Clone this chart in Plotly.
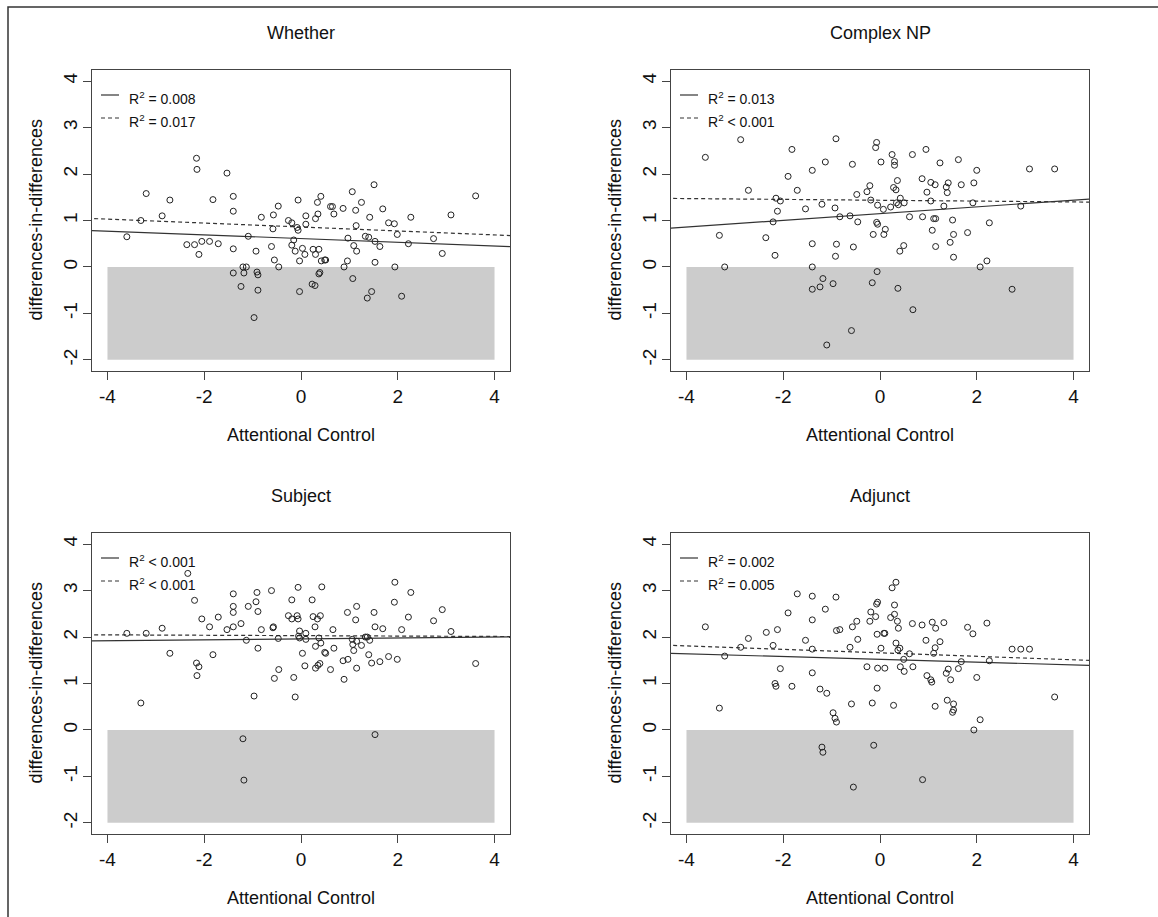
import plotly.graph_objects as go

W, H = 1158, 917

# ---------------- data ----------------
titles = ["Whether", "Complex NP", "Subject", "Adjunct"]
x_label = "Attentional Control"
y_label = "differences-in-differences"
x_ticks = [-4, -2, 0, 2, 4]
y_ticks = [-2, -1, 0, 1, 2, 3, 4]

whether_x = [-3.60, -3.31, -3.20, -2.87, -2.71, -2.36, -2.20, -2.16, -2.15, -2.11, -2.05, -1.89, -1.82, -1.71,
             -1.53, -1.40, -1.40, -1.40, -1.40, -1.24, -1.20, -1.13, -1.18, -1.09, -0.97, -0.93, -0.91, -0.89,
             -0.89, -0.82, -0.61, -0.57, -0.58, -0.55, -0.47, -0.46, -0.26, -0.19, -0.19, -0.15, -0.12, -0.06,
             -0.08, -0.06, -0.03, -0.03, 0.03, 0.08, 0.10, 0.10, 0.25, 0.23, 0.29, 0.30, 0.30, 0.34, 0.35, 0.37,
             0.37, 0.39, 0.41, 0.42, 0.49, 0.51, 0.61, 0.65, 0.68, 0.87, 0.89, 0.96, 0.97, 1.06, 1.07, 1.09,
             1.13, 1.14, 1.15, 1.25, 1.33, 1.37, 1.40, 1.42, 1.46, 1.51, 1.53, 1.53, 1.63, 1.69, 1.81, 1.93,
             1.94, 1.99, 2.08, 2.22, 2.27, 2.74, 2.92, 3.10, 3.61]
whether_y = [0.65, 1.00, 1.58, 1.10, 1.44, 0.48, 0.48, 2.34, 2.10, 0.27, 0.55, 0.55, 1.45, 0.50,
             2.02, 1.52, 1.20, 0.39, -0.13, -0.42, 0.00, 0.00, -0.13, 0.66, -1.09, 0.34, -0.11, -0.17,
             -0.50, 1.07, 0.44, 1.12, 0.82, 0.15, 1.31, 0.00, 1.00, 0.95, 0.47, 0.58, 0.34, 1.44,
             0.85, 0.79, 0.13, -0.53, 0.40, 0.27, 1.10, 0.92, 0.38, -0.37, -0.40, 1.04, 0.27, 1.39, 1.14, 0.38,
             -0.15, -0.12, 1.52, 0.13, 0.15, 0.15, 1.30, 1.30, 1.14, 1.26, 0.00, 0.13, 0.62, 1.62, -0.25, 0.46,
             1.22, 0.89, 0.34, 1.39, 0.66, -0.67, 0.64, 1.07, -0.53, 1.77, 0.55, 0.10, 0.44, 1.25, 0.95, 0.93,
             0.00, 0.70, -0.63, 0.50, 1.07, 0.61, 0.29, 1.12, 1.53]

complex_x = [-3.61, -3.32, -3.21, -2.88, -2.72, -2.36, -2.21, -2.17, -2.15, -2.12, -2.06, -1.90, -1.82, -1.71,
             -1.54, -1.40, -1.40, -1.40, -1.40, -1.24, -1.20, -1.18, -1.13, -1.10, -0.97, -0.93, -0.90, -0.91,
             -0.92, -0.83, -0.62, -0.59, -0.57, -0.55, -0.48, -0.46, -0.27, -0.21, -0.19, -0.16, -0.14, -0.09,
             -0.07, -0.07, -0.06, -0.05, -0.05, 0.02, 0.07, 0.08, 0.11, 0.22, 0.25, 0.28, 0.30, 0.30, 0.33, 0.34,
             0.36, 0.38, 0.37, 0.41, 0.42, 0.49, 0.50, 0.61, 0.67, 0.68, 0.87, 0.88, 0.95, 0.97, 1.05, 1.05,
             1.08, 1.11, 1.14, 1.15, 1.15, 1.24, 1.32, 1.37, 1.39, 1.41, 1.45, 1.50, 1.52, 1.52, 1.62, 1.68,
             1.81, 1.92, 1.94, 2.00, 2.07, 2.21, 2.26, 2.73, 2.91, 3.09, 3.61]
complex_y = [2.36, 0.68, 0.00, 2.74, 1.65, 0.63, 0.97, 0.25, 1.48, 1.20, 1.42, 1.95, 2.53, 1.65,
             1.25, 2.08, 0.50, 0.00, -0.48, -0.43, 1.35, -0.25, 2.26, -1.68, -0.36, 1.27, 0.49, 2.76,
             0.23, 1.08, 1.10, -1.37, 2.21, 0.43, 1.56, 0.97, 1.62, 1.75, 1.44, -0.34, 0.70, 2.57,
             2.68, 0.96, -0.10, 1.33, 0.92, 2.26, 1.24, 0.70, 0.81, 1.29, 2.42, 1.71, 2.27, 2.19, 1.66, 1.38,
             1.86, 1.34, -0.46, 0.34, 1.48, 0.46, 1.38, 1.08, 2.42, -0.92, 1.90, 1.08, 2.53, 1.61, 1.42, 1.82,
             0.79, 1.04, 1.77, 1.04, 0.44, 2.24, 1.31, 1.72, 1.60, 1.81, 0.53, 1.01, 0.70, 0.21, 2.31, 1.77,
             0.74, 1.38, 1.81, 2.08, 0.00, 0.13, 0.95, -0.48, 1.31, 2.11, 2.11]

subject_x = [-3.60, -3.31, -3.20, -2.87, -2.71, -2.34, -2.20, -2.16, -2.15, -2.11, -2.05, -1.89, -1.82, -1.71,
             -1.53, -1.40, -1.40, -1.40, -1.40, -1.24, -1.20, -1.18, -1.13, -1.09, -0.97, -0.93, -0.91, -0.89,
             -0.89, -0.82, -0.61, -0.57, -0.58, -0.55, -0.47, -0.46, -0.26, -0.19, -0.19, -0.15, -0.12, -0.06,
             -0.08, -0.06, -0.05, -0.03, -0.03, 0.03, 0.08, 0.10, 0.10, 0.23, 0.25, 0.29, 0.30, 0.30, 0.34, 0.35,
             0.37, 0.39, 0.40, 0.41, 0.43, 0.49, 0.51, 0.61, 0.66, 0.68, 0.87, 0.89, 0.96, 0.97, 1.06, 1.07,
             1.09, 1.13, 1.15, 1.15, 1.15, 1.25, 1.33, 1.37, 1.40, 1.42, 1.46, 1.51, 1.53, 1.53, 1.63, 1.69,
             1.81, 1.93, 1.94, 1.99, 2.08, 2.22, 2.27, 2.74, 2.92, 3.10, 3.61]
subject_y = [2.08, 0.58, 2.08, 2.19, 1.65, 3.37, 2.79, 1.44, 1.17, 1.36, 2.39, 2.22, 1.62, 2.43,
             2.16, 2.93, 2.66, 2.53, 2.22, 2.29, -0.19, -1.08, 1.93, 2.66, 0.73, 2.76, 2.96, 2.55,
             1.76, 2.16, 3.00, 2.22, 2.20, 1.11, 1.97, 1.30, 2.46, 2.80, 2.39, 1.13, 0.71, 3.07,
             2.46, 2.39, 2.02, 1.98, 2.13, 1.65, 1.38, 2.08, 1.95, 2.80, 2.44, 2.22, 1.80, 1.33, 2.39, 1.39,
             1.98, 1.43, 2.46, 1.87, 3.08, 1.67, 1.65, 1.30, 2.16, 1.76, 1.49, 1.09, 2.53, 1.52, 1.95, 1.84,
             1.71, 2.37, 2.66, 1.91, 1.33, 1.82, 2.00, 2.00, 1.62, 1.93, 1.44, 2.53, 2.22, -0.10, 1.47, 2.18,
             1.58, 2.75, 3.18, 1.52, 2.16, 2.43, 2.96, 2.35, 2.59, 2.12, 1.43]

adjunct_x = [-3.61, -3.32, -3.21, -2.88, -2.72, -2.35, -2.21, -2.17, -2.15, -2.12, -2.06, -1.90, -1.82, -1.71,
             -1.54, -1.40, -1.40, -1.40, -1.40, -1.24, -1.20, -1.18, -1.13, -1.10, -0.97, -0.93, -0.90, -0.91,
             -0.90, -0.83, -0.62, -0.59, -0.55, -0.57, -0.48, -0.46, -0.27, -0.21, -0.19, -0.16, -0.13, -0.09,
             -0.07, -0.05, -0.06, -0.06, -0.05, 0.02, 0.08, 0.10, 0.10, 0.22, 0.25, 0.28, 0.30, 0.30, 0.33, 0.33,
             0.36, 0.38, 0.37, 0.41, 0.42, 0.49, 0.50, 0.61, 0.67, 0.68, 0.87, 0.88, 0.95, 0.97, 1.05, 1.07,
             1.08, 1.11, 1.14, 1.15, 1.14, 1.24, 1.32, 1.37, 1.39, 1.41, 1.46, 1.52, 1.50, 1.52, 1.62, 1.68,
             1.81, 1.92, 1.94, 2.00, 2.07, 2.21, 2.26, 2.73, 2.91, 3.09, 3.61]
adjunct_y = [2.22, 0.47, 1.59, 1.78, 1.97, 2.10, 1.82, 1.00, 0.94, 2.16, 1.32, 2.52, 0.94, 2.93,
             1.93, 2.88, 2.37, 1.74, 1.23, 0.88, -0.37, -0.48, 2.60, 0.79, 0.37, 0.25, 0.17, 2.86,
             2.14, 2.16, 1.78, 0.56, -1.23, 2.22, 2.34, 1.95, 1.36, 2.34, 2.54, 0.58, -0.33, 2.44,
             2.71, 2.75, 2.06, 0.90, 1.33, 1.76, 2.08, 2.08, 1.33, 2.42, 3.06, 0.53, 2.69, 2.49, 3.18, 1.87,
             2.34, 2.19, 1.72, 1.76, 1.36, 1.52, 1.26, 1.64, 2.29, 1.36, 2.26, -1.07, 1.93, 1.17, 1.08, 1.03,
             2.32, 1.65, 1.77, 2.19, 0.51, 1.90, 2.31, 1.22, 0.64, 1.31, 1.08, 0.56, 0.38, 0.43, 1.32, 1.47,
             2.21, 2.07, 0.00, 1.13, 0.22, 2.30, 1.49, 1.74, 1.74, 1.74, 0.71]

# regression lines per panel: (intercept, slope) for solid and dashed fits
solid_intercept = [0.611, 1.148, 1.959, 1.520]
solid_slope = [-0.040, 0.0727, 0.010, -0.030]
dashed_intercept = [0.860, 1.436, 2.030, 1.660]
dashed_slope = [-0.0425, -0.0091, -0.0043, -0.0375]
solid_r2 = ["R<sup>2</sup> = 0.008", "R<sup>2</sup> = 0.013", "R<sup>2</sup> < 0.001", "R<sup>2</sup> = 0.002"]
dashed_r2 = ["R<sup>2</sup> = 0.017", "R<sup>2</sup> < 0.001", "R<sup>2</sup> < 0.001", "R<sup>2</sup> = 0.005"]

# shaded region (x from, x to, y from, y to)
shade_x = [-4, 4]
shade_y = [-2, 0]

xs = [whether_x, complex_x, subject_x, adjunct_x]
ys = [whether_y, complex_y, subject_y, adjunct_y]

# ---------------- layout helpers ----------------
X_RANGE = [-4.32, 4.32]
Y_RANGE = [-2.24, 4.24]
BOX_W, BOX_H = 418, 301
boxes = [(92, 70), (671, 70), (92, 533), (671, 533)]  # left, top in px


def px(xp):
    return xp / W


def py(yp):
    return 1 - yp / H


FONT = "Liberation Sans, Arial, sans-serif"
INK = "#111111"
LINE = "#333333"

fig = go.Figure()
layout = dict(
    width=W, height=H, margin=dict(l=0, r=0, t=0, b=0),
    paper_bgcolor="white", plot_bgcolor="white", showlegend=False,
    font=dict(family=FONT, color=INK),
)
shapes = []
annotations = []

for i in range(4):
    n = "" if i == 0 else str(i + 1)
    xa, ya = "x" + n, "y" + n
    left, top = boxes[i]
    layout["xaxis" + n] = dict(
        domain=[px(left), px(left + BOX_W)], range=X_RANGE, anchor=ya,
        showline=True, mirror=True, linecolor="#444444", linewidth=1.3,
        ticks="outside", ticklen=8, tickwidth=1.2, tickcolor="#444444",
        tickvals=x_ticks, ticktext=[str(v) for v in x_ticks],
        tickfont=dict(size=19, family=FONT, color=INK), ticklabelstandoff=0,
        showgrid=False, zeroline=False, fixedrange=True,
    )
    layout["yaxis" + n] = dict(
        domain=[py(top + BOX_H), py(top)], range=Y_RANGE, anchor=xa,
        showline=True, mirror=True, linecolor="#444444", linewidth=1.3,
        ticks="outside", ticklen=8, tickwidth=1.2, tickcolor="#444444",
        tickvals=y_ticks, ticktext=[str(v) for v in y_ticks], tickangle=-90,
        tickfont=dict(size=19, family=FONT, color=INK), ticklabelstandoff=-2,
        showgrid=False, zeroline=False, fixedrange=True,
    )
    # shaded region
    shapes.append(dict(type="rect", xref=xa, yref=ya, x0=shade_x[0], x1=shade_x[1],
                       y0=shade_y[0], y1=shade_y[1], fillcolor="#CCCCCC",
                       line=dict(width=0), layer="below"))
    # regression lines across the full axis range
    lx = [X_RANGE[0] - 0.1, X_RANGE[1] + 0.1]
    fig.add_trace(go.Scatter(x=lx, y=[solid_intercept[i] + solid_slope[i] * v for v in lx],
                             mode="lines", line=dict(color=LINE, width=1.2),
                             xaxis=xa, yaxis=ya, hoverinfo="skip"))
    fig.add_trace(go.Scatter(x=lx, y=[dashed_intercept[i] + dashed_slope[i] * v for v in lx],
                             mode="lines", line=dict(color=LINE, width=1.2, dash="4px,3px"),
                             xaxis=xa, yaxis=ya, hoverinfo="skip"))
    # points
    fig.add_trace(go.Scatter(x=xs[i], y=ys[i], mode="markers",
                             marker=dict(symbol="circle-open", size=6, color="#222222",
                                         line=dict(width=1, color="#222222")),
                             xaxis=xa, yaxis=ya, cliponaxis=False))
    # title
    annotations.append(dict(text=titles[i], x=px(left + BOX_W / 2), y=py(top - 37),
                            xref="paper", yref="paper", showarrow=False,
                            xanchor="center", yanchor="middle",
                            font=dict(size=18, family=FONT, color=INK)))
    # axis titles
    annotations.append(dict(text=x_label, x=px(left + BOX_W / 2), y=py(top + 365),
                            xref="paper", yref="paper", showarrow=False,
                            xanchor="center", yanchor="middle",
                            font=dict(size=18, family=FONT, color=INK)))
    annotations.append(dict(text=y_label, x=px(left - 57), y=py(top + BOX_H / 2),
                            xref="paper", yref="paper", showarrow=False, textangle=-90,
                            xanchor="center", yanchor="middle",
                            font=dict(size=18, family=FONT, color=INK)))
    # legend
    shapes.append(dict(type="line", xref="paper", yref="paper",
                       x0=px(left + 9), x1=px(left + 27), y0=py(top + 25), y1=py(top + 25),
                       line=dict(color=LINE, width=1.2)))
    shapes.append(dict(type="line", xref="paper", yref="paper",
                       x0=px(left + 9), x1=px(left + 27), y0=py(top + 48), y1=py(top + 48),
                       line=dict(color=LINE, width=1.2, dash="4px,3px")))
    annotations.append(dict(text=solid_r2[i], x=px(left + 35), y=py(top + 28),
                            xref="paper", yref="paper", showarrow=False,
                            xanchor="left", yanchor="middle",
                            font=dict(size=14, family=FONT, color=INK)))
    annotations.append(dict(text=dashed_r2[i], x=px(left + 35), y=py(top + 51),
                            xref="paper", yref="paper", showarrow=False,
                            xanchor="left", yanchor="middle",
                            font=dict(size=14, family=FONT, color=INK)))

# outer frame of the figure
shapes.append(dict(type="rect", xref="paper", yref="paper",
                   x0=px(8), x1=px(W + 20), y0=py(H + 20), y1=py(7),
                   line=dict(color="#333333", width=1.5), fillcolor="rgba(0,0,0,0)"))

layout["shapes"] = shapes
layout["annotations"] = annotations
fig.update_layout(**layout)
# remove the browser's default 8px body margin so the figure sits at the page origin
fig.write_html("out.html", config={"displayModeBar": False},
               post_script="document.body.style.margin='0px';document.body.style.overflow='hidden';")
